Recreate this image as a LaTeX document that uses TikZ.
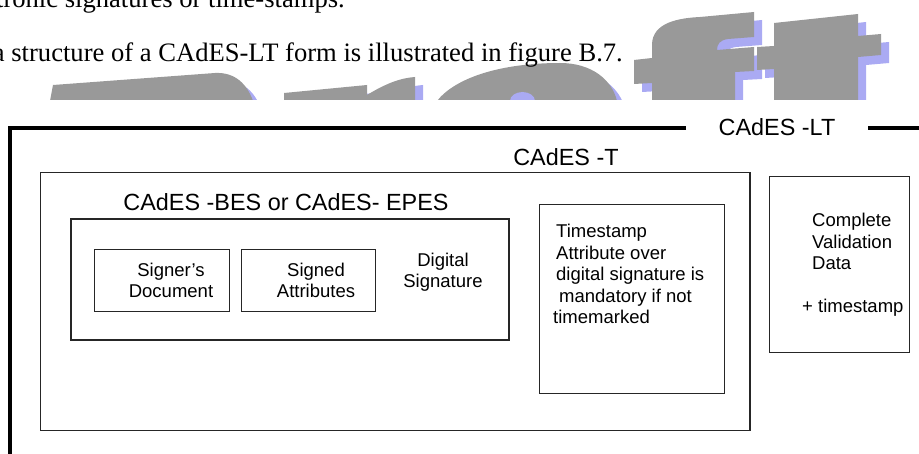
\documentclass[tikz,border=0pt]{standalone}
\usepackage{fontspec}
\setmainfont{Liberation Sans}
\newfontfamily\pagefont{Liberation Serif}
\definecolor{draftgray}{RGB}{153,153,153}
\definecolor{draftblue}{RGB}{170,170,243}
\tikzset{
  box/.style={draw=black!85,line width=1pt,inner sep=0pt},
  boxtext/.style={font=\fontsize{18.5}{21.5}\selectfont,inner sep=0pt},
  formname/.style={font=\fontsize{23.4}{28}\selectfont,inner sep=0pt},
  pagetext/.style={font=\pagefont\fontsize{26.6}{30}\selectfont,inner sep=0pt,anchor=base east},
  frame/.style={line width=3.8pt}
}
\newcommand\draftletters{
  (50,101) -- (53,85) -- (215,73) .. controls (235,72) and (247,84) .. (253,101) -- cycle
  (284,101) -- (284,93) -- (367,85) -- (367,95) .. controls (385,84) and (400,78) .. (415,77) -- (415,101) -- cycle
  (437,101) .. controls (455,78) and (500,63) .. (560,63) .. controls (592,63) and (612,80) .. (617,101) -- cycle
  (652,101) -- (652,83) -- (634,84) -- (634,60) -- (652,58) -- (652,45) .. controls (652,22) and (680,18) .. (700,17)
    -- (754,12) -- (754,37) -- (728,39) .. controls (720,40) and (717,44) .. (717,50) -- (754,47) -- (754,71) -- (735,72) -- (735,101) -- cycle
  (774,101) -- (774,69) -- (757,70) -- (757,47) -- (774,46) -- (774,23) -- (858,14) -- (858,36) -- (881,34) -- (881,55) -- (858,57) -- (858,101) -- cycle
}

\begin{document}
\begin{tikzpicture}[x=1pt,y=-1pt]
\useasboundingbox (0,0) rectangle (919,454);

\begin{scope}
\clip (0,0) rectangle (919,100);
\fill[draftblue,shift={(8,8)}] \draftletters;
\fill[draftgray] \draftletters;
\fill[draftblue] (522.5,101) ellipse (12.5 and 9);
\end{scope}
\node[pagetext] (lineone) at (345,8) {tronic signatures or time-stamps.};
\node[pagetext] (linetwo) at (623,62) {a structure of a CAdES-LT form is illustrated in figure B.7.};

\node[formname,anchor=base,inner xsep=32.5pt] (ltlabel) at (777,136) {CAdES -LT};
\draw[frame] (ltlabel.west) -| (10,470);
\draw[frame] (ltlabel.east) -- ++(60,0);

\node[box,line width=1.5pt,minimum width=709.5,minimum height=258] (tbox) at (395.25,301.5) {};
\node[formname,anchor=base] (tlabel) at (566,166) {CAdES -T};

\node[box,line width=1.2pt,minimum width=438,minimum height=121] (besbox) at (290,279.5) {};
\node[formname,anchor=base] (beslabel) at (286,211) {CAdES -BES or CAdES- EPES};

\node[box,minimum width=135,minimum height=62] (docbox) at (161.5,281) {};
\node[boxtext,align=center] (doctext) at (171,280.5) {Signer’s\\Document};
\node[box,minimum width=134.5,minimum height=62] (attrbox) at (308.25,281) {};
\node[boxtext,align=center] (attrtext) at (316,280.5) {Signed\\Attributes};
\node[boxtext,align=center] (sigtext) at (443,272.4) {Digital\\Signature};

\node[box,minimum width=185,minimum height=189] (tsbox) at (631.5,299.5) {};
\node[boxtext,align=left,anchor=north west] (tstext) at (556,224) {Timestamp\\Attribute over\\digital signature is\\\hspace*{3pt}mandatory if not\\\hspace*{-3pt}timemarked};

\node[box,minimum width=140,minimum height=176] (cvdbox) at (839,265) {};
\node[boxtext,align=left,anchor=north west] (cvdtext) at (812,213) {Complete\\Validation\\Data\\[21.5pt]\hspace*{-10pt}+ timestamp};
\end{tikzpicture}
\end{document}
